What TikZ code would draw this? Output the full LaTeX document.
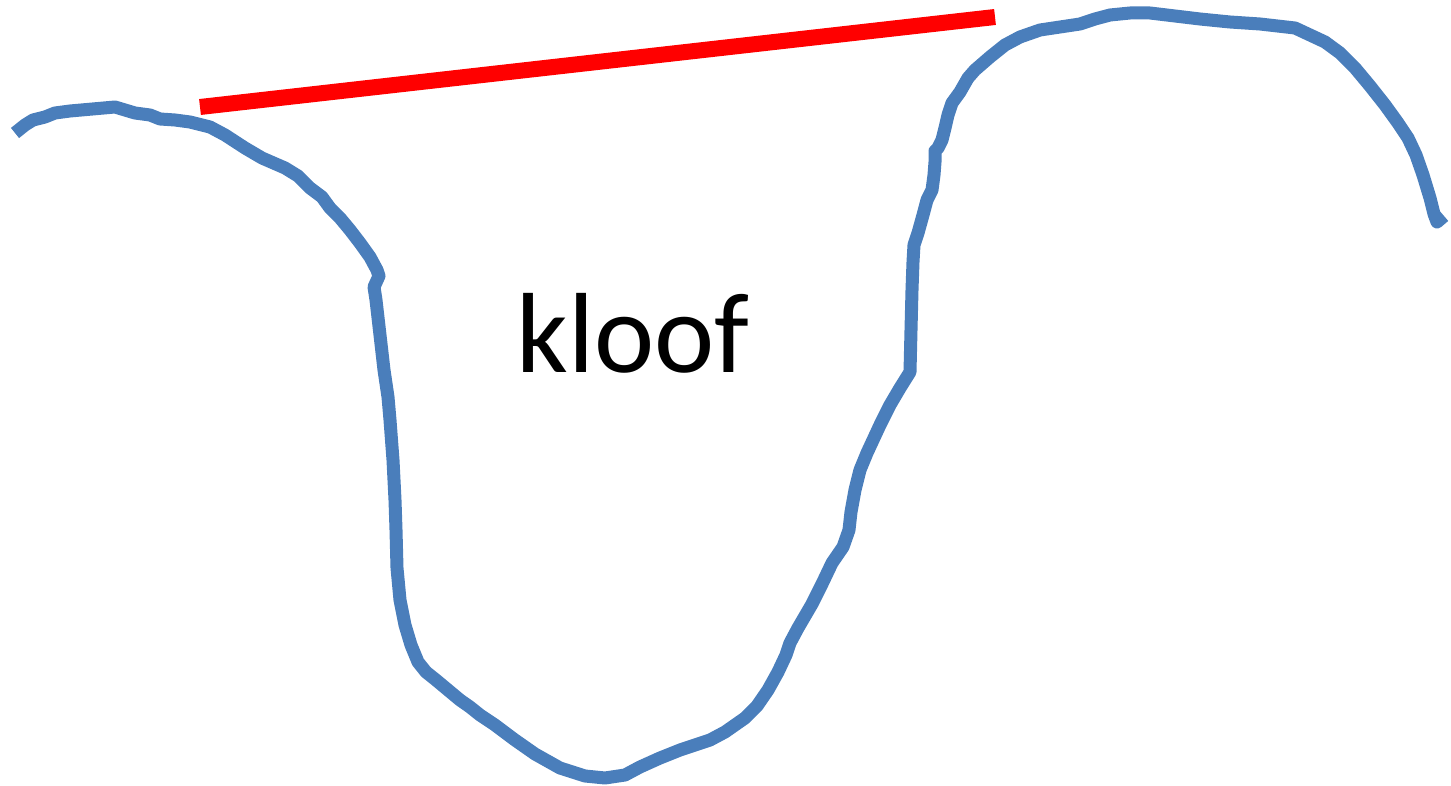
\documentclass[tikz,border=0pt]{standalone}
\usepackage{fontspec}
\setmainfont{Carlito}
\definecolor{canyon}{HTML}{4A7EBB}
\definecolor{rim}{HTML}{FF0000}
\begin{document}
\begin{tikzpicture}[x=1pt,y=-1pt,
  edge/.style={draw=canyon,line width=13pt,line join=round},
  span/.style={draw=rim,line width=16pt},
  label/.style={font=\fontsize{114}{114}\selectfont,inner sep=0pt,anchor=base}]
\useasboundingbox (0,0) rectangle (1451,786);
\coordinate (r1) at (200,107);
\coordinate (r2) at (995,17);
\draw[span] (r1) -- (r2);
\draw[edge] (15,133) -- (25,125) -- (33,120) -- (45,117) -- (55,113) -- (70,111) -- (115,107) -- (125,110) -- (135,113) -- (150,115) -- (160,119) -- (175,120) -- (190,122) -- (210,127) -- (225,135) -- (245,148) -- (262,158) -- (285,168) -- (298,176) -- (310,188) -- (322,197) -- (330,208) -- (340,218) -- (350,230) -- (360,243) -- (370,257) -- (377,270) -- (379,276) -- (374,287) -- (376,300) -- (380,335) -- (384,370) -- (388,397) -- (390,420) -- (393,460) -- (395,500) -- (396,530) -- (397,568) -- (400,600) -- (405,625) -- (411,645) -- (418,662) -- (426,672) -- (436,680) -- (448,690) -- (460,700) -- (470,707) -- (480,715) -- (495,725) -- (515,740) -- (535,754) -- (560,768) -- (585,776) -- (605,778) -- (625,775) -- (640,767) -- (660,758) -- (680,750) -- (710,740) -- (725,732) -- (745,718) -- (757,706) -- (768,690) -- (778,672) -- (786,655) -- (790,643) -- (798,628) -- (812,604) -- (822,584) -- (832,563) -- (843,547) -- (849,530) -- (851,512) -- (855,490) -- (860,470) -- (867,453) -- (880,425) -- (890,405) -- (900,388) -- (910,372) -- (911,330) -- (912,290) -- (913,262) -- (914,245) -- (918,233) -- (923,215) -- (927,200) -- (932,190) -- (934,175) -- (935,162) -- (935,151) -- (938,148) -- (942,140) -- (945,128) -- (948,115) -- (952,103) -- (960,92) -- (968,78) -- (975,70) -- (990,57) -- (1005,45) -- (1020,37) -- (1040,30) -- (1060,27) -- (1080,24) -- (1095,19) -- (1110,15) -- (1130,13) -- (1150,13) -- (1175,16) -- (1200,19) -- (1230,22) -- (1260,24) -- (1295,28) -- (1310,35) -- (1325,42) -- (1340,53) -- (1355,68) -- (1370,86) -- (1385,105) -- (1398,123) -- (1408,138) -- (1416,155) -- (1423,175) -- (1430,198) -- (1434,214) -- (1437,222) -- (1444,216);
\node[label] (t) at (633,372) {kloof};
\end{tikzpicture}
\end{document}
